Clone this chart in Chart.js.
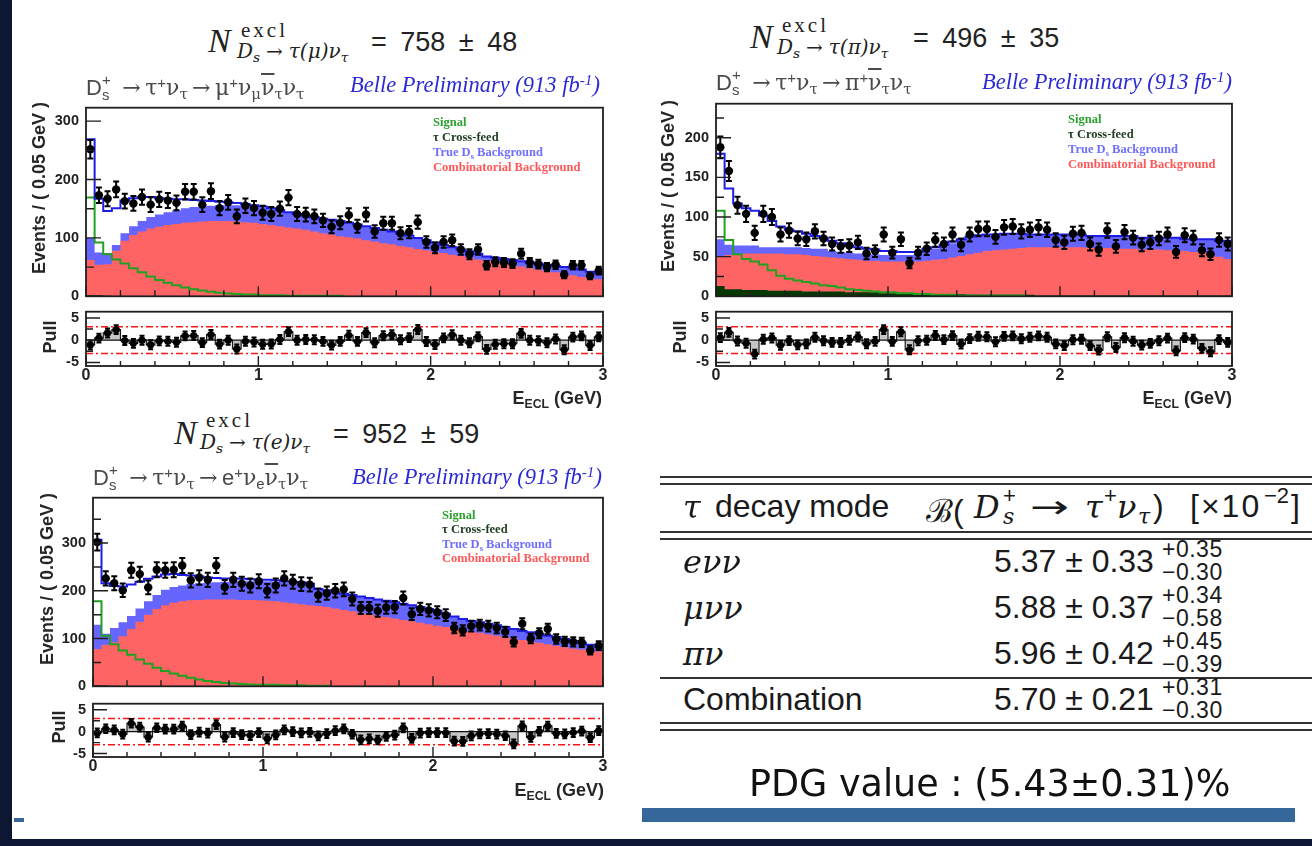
<!DOCTYPE html>
<html>
<head>
<meta charset="utf-8">
<title>Belle: D_s → τν yields in E_ECL</title>
<script src="https://cdn.jsdelivr.net/npm/chart.js@4.4.1/dist/chart.umd.min.js"></script>
<style>
  html,body{margin:0;padding:0;background:#fff;}
  body{position:relative;width:1312px;height:846px;overflow:hidden;font-family:"Liberation Sans",Arial,sans-serif;color:#222;}
  canvas{position:absolute;z-index:1;}
  .a{position:absolute;white-space:nowrap;line-height:1;z-index:2;}
  .g{font-family:"Liberation Serif","Times New Roman",serif;}
  .gk{font-family:"DejaVu Serif","Liberation Serif",serif;}
  .sub{font-size:.68em;position:relative;top:.3em;}
  .sup{font-size:.68em;position:relative;top:-.45em;}
  .stk{position:relative;display:inline-block;width:.45em;height:1em;}
  .stk>span{position:absolute;left:0;font-size:.68em;line-height:1;}
  .stk>.u{top:0;}
  .stk>.d{top:1em;}
  .ovl{text-decoration:overline;}
  .arr{display:inline-block;margin:0 .2em;}
  .tN{font:italic 34px "Liberation Serif",serif;}
  .tEx{font:21px "Liberation Serif",serif;letter-spacing:3px;}
  .tSub{font:italic 20px "DejaVu Serif","Liberation Serif",serif;}
  .tSub .arr{font-style:normal;margin:0 .3em;}
  .tEq{font:27px "Liberation Sans",sans-serif;word-spacing:6px;}
  .proc{font-size:22px;color:#4a4a4a;}
  .belle{font:italic 22.5px "Liberation Serif",serif;color:#2a2ad6;}
  .leg{font:bold 12.5px "Liberation Serif",serif;}
  .ytl{font:bold 18px "Liberation Sans",sans-serif;color:#262626;transform:translate(-50%,-50%) rotate(-90deg);}
  .xtl{font:bold 18px "Liberation Sans",sans-serif;color:#262626;}
  .rule{position:absolute;left:660px;width:652px;height:2px;background:#333;z-index:2;}
  .tb{font:32px "Liberation Sans",sans-serif;color:#1a1a1a;}
  .ts{font:22px "Liberation Sans",sans-serif;color:#1a1a1a;}
  .mi{font-family:"DejaVu Serif","Liberation Serif",serif;font-style:italic;}
  .cal{font-family:"DejaVu Serif","Liberation Serif",serif;}
  .es{font:23px "Liberation Sans",sans-serif;color:#1a1a1a;letter-spacing:.5px;}
</style>
</head>
<body>

<!-- slide frame -->
<div style="position:absolute;left:0;top:0;width:12px;height:846px;background:#0d1733;"></div>
<div style="position:absolute;left:0;top:839px;width:1312px;height:7px;background:#0d1733;"></div>
<div style="position:absolute;left:14px;top:818px;width:10px;height:4px;background:#35679a;"></div>
<div style="position:absolute;left:642px;top:808px;width:653px;height:14px;background:#35679a;"></div>

<!-- ===== τ → μ ν ν panel ===== -->
<div class="a tN" style="left:208px;top:22px;">N</div>
<div class="a tEx" style="left:241px;top:18px;">excl</div>
<div class="a tSub" style="left:237px;top:39px;">D<span class="sub">s</span><span class="arr">→</span>τ(μ)ν<span class="sub">τ</span></div>
<div class="a tEq" style="left:371px;top:27px;">= 758 ± 48</div>
<div class="a proc" style="left:86px;top:73px;">D<span class="stk"><span class="u">+</span><span class="d">s</span></span> <span class="gk arr">→</span><span class="gk">τ</span><span class="sup">+</span><span class="gk">ν</span><span class="sub gk">τ</span><span class="gk arr">→</span><span class="gk">μ</span><span class="sup">+</span><span class="gk">ν</span><span class="sub gk">μ</span><span class="gk ovl">ν</span><span class="sub gk">τ</span><span class="gk">ν</span><span class="sub gk">τ</span></div>
<div class="a belle" style="right:712px;top:72px;">Belle Preliminary (913 fb<span class="sup">-1</span>)</div>
<div class="a leg" style="left:433px;top:115px;color:#2ca02c;">Signal</div>
<div class="a leg" style="left:433px;top:130px;color:#1e3d1e;">τ Cross-feed</div>
<div class="a leg" style="left:433px;top:145px;color:#6e6eff;">True D<span class="sub">s</span> Background</div>
<div class="a leg" style="left:433px;top:160px;color:#ff5757;">Combinatorial Background</div>
<div class="a ytl" style="left:39px;top:188px;">Events / ( 0.05 GeV )</div>
<div class="a ytl" style="left:50px;top:337px;">Pull</div>
<div class="a xtl" style="right:710px;top:388px;">E<span class="sub">ECL</span> (GeV)</div>

<!-- ===== τ → π ν panel ===== -->
<div class="a tN" style="left:750px;top:18px;">N</div>
<div class="a tEx" style="left:782px;top:13px;">excl</div>
<div class="a tSub" style="left:777px;top:35px;">D<span class="sub">s</span><span class="arr">→</span>τ(π)ν<span class="sub">τ</span></div>
<div class="a tEq" style="left:913px;top:23px;">= 496 ± 35</div>
<div class="a proc" style="left:716px;top:68px;">D<span class="stk"><span class="u">+</span><span class="d">s</span></span> <span class="gk arr">→</span><span class="gk">τ</span><span class="sup">+</span><span class="gk">ν</span><span class="sub gk">τ</span><span class="gk arr">→</span><span class="gk">π</span><span class="sup">+</span><span class="gk ovl">ν</span><span class="sub gk">τ</span><span class="gk">ν</span><span class="sub gk">τ</span></div>
<div class="a belle" style="right:80px;top:69px;">Belle Preliminary (913 fb<span class="sup">-1</span>)</div>
<div class="a leg" style="left:1068px;top:112px;color:#2ca02c;">Signal</div>
<div class="a leg" style="left:1068px;top:127px;color:#1e3d1e;">τ Cross-feed</div>
<div class="a leg" style="left:1068px;top:142px;color:#6e6eff;">True D<span class="sub">s</span> Background</div>
<div class="a leg" style="left:1068px;top:157px;color:#ff5757;">Combinatorial Background</div>
<div class="a ytl" style="left:668px;top:186px;">Events / ( 0.05 GeV )</div>
<div class="a ytl" style="left:680px;top:337px;">Pull</div>
<div class="a xtl" style="right:80px;top:388px;">E<span class="sub">ECL</span> (GeV)</div>

<!-- ===== τ → e ν ν panel ===== -->
<div class="a tN" style="left:174px;top:414px;">N</div>
<div class="a tEx" style="left:206px;top:408px;">excl</div>
<div class="a tSub" style="left:200px;top:430px;">D<span class="sub">s</span><span class="arr">→</span>τ(e)ν<span class="sub">τ</span></div>
<div class="a tEq" style="left:333px;top:419px;">= 952 ± 59</div>
<div class="a proc" style="left:93px;top:463px;">D<span class="stk"><span class="u">+</span><span class="d">s</span></span> <span class="gk arr">→</span><span class="gk">τ</span><span class="sup">+</span><span class="gk">ν</span><span class="sub gk">τ</span><span class="gk arr">→</span>e<span class="sup">+</span><span class="gk">ν</span><span class="sub">e</span><span class="gk ovl">ν</span><span class="sub gk">τ</span><span class="gk">ν</span><span class="sub gk">τ</span></div>
<div class="a belle" style="right:710px;top:464px;">Belle Preliminary (913 fb<span class="sup">-1</span>)</div>
<div class="a leg" style="left:442px;top:508px;color:#2ca02c;">Signal</div>
<div class="a leg" style="left:442px;top:522px;color:#1e3d1e;">τ Cross-feed</div>
<div class="a leg" style="left:442px;top:537px;color:#6e6eff;">True D<span class="sub">s</span> Background</div>
<div class="a leg" style="left:442px;top:551px;color:#ff5757;">Combinatorial Background</div>
<div class="a ytl" style="left:47px;top:579px;">Events / ( 0.05 GeV )</div>
<div class="a ytl" style="left:59px;top:727px;">Pull</div>
<div class="a xtl" style="right:708px;top:780px;">E<span class="sub">ECL</span> (GeV)</div>

<!-- ===== branching-fraction table ===== -->
<div class="rule" style="top:476px;"></div>
<div class="rule" style="top:483px;"></div>
<div class="rule" style="top:531px;"></div>
<div class="rule" style="top:538px;"></div>
<div class="rule" style="top:677px;"></div>
<div class="rule" style="top:722px;"></div>
<div class="rule" style="top:729px;"></div>
<div class="a tb" style="left:683px;top:488px;"><span class="mi">τ</span></div>
<div class="a tb" style="left:715px;top:488px;">decay mode</div>
<!-- header: B(Ds+ -> tau+ nu_tau) [x10^-2] -->
<div class="a tb" style="left:926px;top:488px;"><span class="cal">ℬ</span>(</div>
<div class="a tb mi" style="left:974px;top:488px;">D</div>
<div class="a ts" style="left:1003px;top:483px;">+</div>
<div class="a ts mi" style="left:1003px;top:504px;">s</div>
<div class="a tb" style="left:1030px;top:488px;font-family:'DejaVu Sans',sans-serif;transform:scaleX(1.45);transform-origin:0 0;">→</div>
<div class="a tb mi" style="left:1085px;top:488px;">τ</div>
<div class="a ts" style="left:1104px;top:483px;">+</div>
<div class="a tb mi" style="left:1117px;top:488px;">ν</div>
<div class="a ts mi" style="left:1138px;top:504px;">τ</div>
<div class="a tb" style="left:1153px;top:488px;">)</div>
<div class="a tb" style="left:1190px;top:488px;letter-spacing:2px;">[×10</div>
<div class="a ts" style="left:1264px;top:483px;">−2</div>
<div class="a tb" style="left:1291px;top:488px;">]</div>
<div id="tableRows"></div>
<div class="a" style="left:749px;top:762px;font:36.5px 'DejaVu Sans',sans-serif;color:#111;">PDG value : (5.43±0.31)%</div>

<script>
// ---------------------------------------------------------------
// Histogram contents, 60 bins of 0.05 GeV in E_ECL (0 – 3 GeV)
// ---------------------------------------------------------------
const BIN = 0.05;

// τ → μ ν ν
const MU_DATA   = [252, 173, 167, 183, 163, 159, 170, 157, 166, 164, 160, 179, 179, 157, 180, 151, 161, 137, 155, 151,
                   143, 141, 150, 169, 141, 140, 137, 130, 119, 126, 139, 120, 140, 111, 125, 125, 108, 110, 127, 93,
                   83, 93, 96, 80, 72, 80, 53, 59, 58, 56, 73, 58, 55, 50, 54, 37, 53, 53, 35, 44];
const MU_COMB   = [60, 52, 54, 78, 95, 105, 111, 116, 119, 122, 124, 126, 127, 128, 129, 129, 129, 128, 127, 126,
                   124, 122, 120, 118, 116, 114, 111, 108, 106, 103, 101, 99, 96, 94, 91, 89, 86, 84, 81, 79,
                   76, 74, 71, 69, 66, 63, 61, 58, 56, 53, 51, 48, 46, 43, 41, 38, 36, 33, 31, 29];
const MU_TRUEDS = [38, 21, 19, 10, 13, 15, 18, 20, 21, 22, 23, 25, 26, 26, 26, 27, 27, 28, 28, 27,
                   28, 27, 26, 25, 24, 23, 24, 24, 24, 25, 25, 24, 24, 23, 23, 22, 21, 20, 19, 17,
                   16, 14, 13, 11, 11, 10, 7, 8, 8, 9, 9, 10, 10, 11, 11, 12, 12, 13, 11, 10];
const MU_XFEED  = [2, 2, 1];
const MU_SIGNAL = [169, 92, 72, 63, 56, 48, 41, 34, 28, 23, 19, 15, 12, 10, 8, 6, 5, 4, 3, 3,
                   2, 2, 2, 1, 1, 1, 1, 1, 1, 1];

// τ → π ν
const PI_DATA   = [188, 158, 115, 104, 80, 104, 100, 78, 83, 73, 72, 82, 73, 66, 63, 64, 68, 54, 57, 78,
                   55, 72, 42, 55, 60, 71, 66, 78, 65, 78, 85, 85, 75, 87, 88, 82, 84, 87, 84, 71,
                   68, 79, 80, 66, 59, 83, 63, 81, 74, 65, 68, 73, 78, 56, 77, 74, 58, 53, 71, 66];
const PI_COMB   = [38, 43, 44, 46, 46, 46, 47, 47, 46, 46, 46, 45, 44, 43, 42, 42, 41, 40, 40, 40,
                   40, 40, 40, 41, 42, 43, 44, 46, 48, 51, 53, 55, 56, 57, 58, 59, 60, 61, 61, 61,
                   61, 61, 61, 60, 60, 60, 59, 59, 59, 58, 58, 58, 57, 57, 56, 55, 54, 52, 49, 46];
const PI_TRUEDS = [21, 13, 11, 10, 10, 8, 8, 8, 9, 9, 9, 9, 10, 8, 8, 8, 8, 8, 8, 8,
                   8, 8, 8, 9, 12, 14, 16, 18, 20, 21, 21, 20, 19, 19, 18, 17, 16, 16, 16, 16,
                   16, 16, 16, 15, 15, 15, 16, 16, 16, 15, 15, 15, 16, 16, 15, 16, 17, 19, 20, 23];
const PI_XFEED  = [13, 9, 9, 8, 8, 8, 7, 7, 7, 7, 6, 6, 6, 6, 6, 5, 5, 5, 5, 4,
                   4, 4, 4, 3, 3, 3, 3, 3, 3, 2, 2, 2, 2, 2, 2, 2, 2, 1, 1, 1,
                   1, 1, 1, 1, 1, 1, 1, 1, 1, 1, 1, 1, 1, 1, 1, 1, 1, 1, 1, 1];
const PI_SIGNAL = [108, 71, 53, 47, 44, 40, 33, 26, 22, 20, 18, 16, 14, 13, 11, 9, 8, 7, 6, 5,
                   5, 4, 4, 3, 3, 2, 2, 2, 1, 1, 1, 1, 1, 1, 1, 1];

// τ → e ν ν
const E_DATA    = [302, 226, 216, 201, 243, 235, 207, 244, 243, 244, 253, 222, 228, 223, 253, 208, 223, 215, 211, 220,
                   200, 211, 226, 219, 214, 213, 191, 195, 200, 203, 183, 164, 164, 158, 165, 166, 185, 151, 162, 159,
                   155, 149, 122, 117, 126, 128, 126, 122, 114, 93, 131, 100, 111, 120, 99, 94, 93, 92, 75, 85];
const E_COMB    = [76, 86, 91, 105, 120, 135, 150, 162, 170, 175, 178, 180, 181, 182, 182, 182, 182, 181, 181, 180,
                   179, 178, 176, 174, 172, 170, 168, 166, 163, 160, 157, 154, 151, 148, 145, 142, 139, 136, 133, 130,
                   127, 124, 121, 118, 115, 112, 109, 106, 103, 100, 97, 94, 91, 88, 85, 82, 79, 77, 75, 73];
const E_TRUEDS  = [51, 23, 30, 29, 27, 28, 28, 29, 32, 33, 33, 34, 35, 35, 36, 37, 38, 39, 39, 40,
                   41, 41, 42, 43, 44, 44, 35, 34, 34, 34, 34, 34, 34, 34, 34, 34, 34, 34, 33, 32,
                   31, 28, 25, 23, 22, 22, 22, 22, 21, 20, 19, 19, 19, 18, 18, 17, 16, 14, 12, 10];
const E_XFEED   = [2, 1, 1];
const E_SIGNAL  = [178, 106, 88, 75, 66, 56, 47, 39, 32, 27, 22, 18, 14, 11, 9, 7, 6, 5, 4, 3,
                   3, 3, 2, 2, 2, 1, 1, 1];

// axis tick labels
const X_TICKS     = [0, 1, 2, 3];
const PULL_TICKS  = [-5, 0, 5];
const MU_Y_TICKS  = [0, 100, 200, 300];
const PI_Y_TICKS  = [0, 50, 100, 150, 200];
const E_Y_TICKS   = [0, 100, 200, 300];

// branching-fraction table
const MODES   = ['eνν', 'μνν', 'πν', 'Combination'];
const BF      = ['5.37', '5.88', '5.96', '5.70'];
const STAT    = ['0.33', '0.37', '0.42', '0.21'];
const SYST_UP = ['0.35', '0.34', '0.45', '0.31'];
const SYST_DN = ['0.30', '0.58', '0.39', '0.30'];

// ---------------------------------------------------------------
// table rows
// ---------------------------------------------------------------
(function buildTable() {
  const host = document.getElementById('tableRows');
  const baselines = [570, 616, 662, 708];
  MODES.forEach((m, i) => {
    const b = baselines[i];
    const isComb = i === MODES.length - 1;
    host.insertAdjacentHTML('beforeend',
      `<div class="a tb" style="left:683px;top:${b - 27}px;">${isComb ? m : '<span class="mi">' + m + '</span>'}</div>` +
      `<div class="a tb" style="left:994px;top:${b - 27}px;">${BF[i]} ± ${STAT[i]}</div>` +
      `<div class="a es" style="left:1162px;top:${b - 15 - 19}px;">+${SYST_UP[i]}</div>` +
      `<div class="a es" style="left:1162px;top:${b + 8 - 19}px;">−${SYST_DN[i]}</div>`);
  });
})();

// ---------------------------------------------------------------
// plotting helpers
// ---------------------------------------------------------------
const Y_AXIS_W = 56, PAD = 12, X_AXIS_H = 24, PAD_B_PULL = 4;
const TICK_FONT = {family: 'Liberation Sans', size: 14.5, weight: 'bold'};
const XTICK_FONT = {family: 'Liberation Sans', size: 16, weight: 'bold'};

const at = (arr, i) => (i < arr.length ? arr[i] : 0);

// points on the bin edges for a stepped outline
function stepPoints(values) {
  const pts = values.map((v, i) => ({x: i * BIN, y: v}));
  pts.push({x: values.length * BIN, y: values[values.length - 1]});
  return pts;
}

function makeCanvas(left, top, w, h) {
  const c = document.createElement('canvas');
  c.width = w; c.height = h;
  c.style.left = left + 'px'; c.style.top = top + 'px';
  c.style.width = w + 'px'; c.style.height = h + 'px';
  document.body.appendChild(c);
  return c;
}

// frame with ROOT-style inward ticks
const rootFrame = {
  id: 'rootFrame',
  afterDraw(chart, args, o) {
    const {ctx, chartArea: a} = chart;
    const x = chart.scales.x, y = chart.scales.y;
    ctx.save();
    ctx.strokeStyle = '#1e1e1e';
    ctx.lineWidth = 1.4;
    ctx.beginPath();
    const nx = Math.round((x.max - x.min) / o.xStep);
    for (let k = 0; k <= nx; k++) {
      const v = x.min + k * o.xStep;
      const major = Math.abs(v - Math.round(v)) < 1e-6;
      const px = x.getPixelForValue(v);
      ctx.moveTo(px, a.bottom);
      ctx.lineTo(px, a.bottom - (major ? o.xMajor : o.xMinor));
    }
    const k0 = Math.ceil(y.min / o.yStep - 1e-9), k1 = Math.floor(y.max / o.yStep + 1e-9);
    for (let k = k0; k <= k1; k++) {
      const v = k * o.yStep;
      const major = o.yLabels.some(t => Math.abs(t - v) < 1e-6);
      const py = y.getPixelForValue(v);
      ctx.moveTo(a.left, py);
      ctx.lineTo(a.left + (major ? o.yMajor : o.yMinor), py);
    }
    ctx.stroke();
    ctx.lineWidth = 1.8;
    ctx.strokeRect(a.left, a.top, a.right - a.left, a.bottom - a.top);
    ctx.restore();
  }
};

// vertical error bars (Poisson for counts, unit for pulls) plus bin-width bars
const errorBars = {
  id: 'errorBars',
  afterDatasetsDraw(chart) {
    const {ctx, chartArea: a} = chart;
    const x = chart.scales.x, y = chart.scales.y;
    ctx.save();
    ctx.beginPath();
    ctx.rect(a.left, a.top, a.right - a.left, a.bottom - a.top);
    ctx.clip();
    chart.data.datasets.forEach(ds => {
      if (!ds.errorMode) return;
      ctx.strokeStyle = '#000';
      ctx.lineWidth = 2;
      const cap = ds.capHalf;
      ds.data.forEach(p => {
        const e = ds.errorMode === 'poisson' ? Math.sqrt(p.y) : 1;
        const px = x.getPixelForValue(p.x), py = y.getPixelForValue(p.y);
        const lo = y.getPixelForValue(p.y - e), hi = y.getPixelForValue(p.y + e);
        const xl = x.getPixelForValue(p.x - BIN / 2), xr = x.getPixelForValue(p.x + BIN / 2);
        ctx.beginPath();
        ctx.moveTo(px, lo); ctx.lineTo(px, hi);
        ctx.moveTo(px - cap, lo); ctx.lineTo(px + cap, lo);
        ctx.moveTo(px - cap, hi); ctx.lineTo(px + cap, hi);
        ctx.moveTo(xl + 0.5, py); ctx.lineTo(xr - 0.5, py);
        ctx.stroke();
      });
    });
    ctx.restore();
  }
};

// zero line and ±3 guides of the pull pad, drawn over the pull histogram
const pullGuides = {
  id: 'pullGuides',
  afterDatasetDraw(chart, args) {
    if (args.index !== 1) return;
    const {ctx, chartArea: a} = chart;
    const y = chart.scales.y;
    ctx.save();
    ctx.strokeStyle = '#111';
    ctx.lineWidth = 1.3;
    ctx.beginPath();
    ctx.moveTo(a.left, y.getPixelForValue(0));
    ctx.lineTo(a.right, y.getPixelForValue(0));
    ctx.stroke();
    ctx.strokeStyle = '#ff1414';
    ctx.lineWidth = 1.5;
    ctx.setLineDash([7, 3, 2, 3]);
    [3, -3].forEach(v => {
      const py = y.getPixelForValue(v);
      ctx.beginPath();
      ctx.moveTo(a.left, py);
      ctx.lineTo(a.right, py);
      ctx.stroke();
    });
    ctx.restore();
  }
};

function yScale(min, max, labels) {
  return {
    type: 'linear', min, max,
    afterFit: s => { s.width = Y_AXIS_W; },
    afterBuildTicks: s => { s.ticks = labels.map(v => ({value: v})); },
    ticks: {font: TICK_FONT, color: '#222', padding: 7},
    grid: {display: false, drawTicks: false},
    border: {display: false}
  };
}

function drawPanel(p) {
  const cf = p.data.map((_, i) => at(p.xfeed, i));
  const red = cf.map((v, i) => v + p.comb[i]);
  const blue = red.map((v, i) => v + p.trueDs[i]);
  const total = blue.map((v, i) => v + at(p.signal, i));
  const pulls = p.data.map((v, i) => (v - total[i]) / Math.sqrt(v));
  const centres = p.data.map((v, i) => ({x: (i + 0.5) * BIN, y: v}));

  // ---- main pad ----
  const m = p.main;
  const mw = Y_AXIS_W + (m.r - m.l) + PAD, mh = PAD + (m.b - m.t) + PAD;
  const mc = makeCanvas(m.l - Y_AXIS_W, m.t - PAD, mw, mh);
  const fillDs = (vals, color, order) => ({
    data: stepPoints(vals), stepped: true, fill: 'origin', backgroundColor: color,
    borderColor: 'rgba(0,0,0,0)', borderWidth: 0, pointRadius: 0, order
  });
  new Chart(mc, {
    type: 'line',
    data: {datasets: [
      {label: 'Data', data: centres, showLine: false, pointRadius: 4.2, pointBackgroundColor: '#000',
       pointBorderWidth: 0, errorMode: 'poisson', capHalf: 3, order: 0},
      {label: 'Fit', data: stepPoints(total), stepped: true, borderColor: '#1c1ce6', borderWidth: 2,
       pointRadius: 0, fill: false, order: 1},
      {label: 'Signal', data: stepPoints(p.signal), stepped: true, borderColor: '#22a022', borderWidth: 2,
       pointRadius: 0, fill: false, order: 2},
      Object.assign({label: 'τ Cross-feed'}, fillDs(cf, '#063806', 3)),
      Object.assign({label: 'Combinatorial Background'}, fillDs(red, '#fe6464', 4)),
      Object.assign({label: 'True Ds Background'}, fillDs(blue, '#6666fe', 5))
    ]},
    options: {
      responsive: false, animation: false, devicePixelRatio: 1,
      layout: {padding: {left: 0, top: PAD, right: PAD, bottom: PAD}},
      plugins: {
        legend: {display: false}, tooltip: {enabled: false},
        rootFrame: {xStep: 0.2, xMajor: 10, xMinor: 6, yStep: p.yMinorStep, yLabels: p.yTicks, yMajor: 15, yMinor: 8}
      },
      scales: {
        x: {type: 'linear', min: 0, max: 3, display: false},
        y: yScale(0, p.yMax, p.yTicks)
      }
    },
    plugins: [rootFrame, errorBars]
  });

  // ---- pull pad ----
  const q = p.pull;
  const qw = Y_AXIS_W + (q.r - q.l) + PAD, qh = PAD + (q.b - q.t) + X_AXIS_H + PAD_B_PULL;
  const qc = makeCanvas(q.l - Y_AXIS_W, q.t - PAD, qw, qh);
  new Chart(qc, {
    type: 'line',
    data: {datasets: [
      {label: 'Pull', data: pulls.map((v, i) => ({x: (i + 0.5) * BIN, y: v})), showLine: false,
       pointRadius: 3.6, pointBackgroundColor: '#000', pointBorderWidth: 0, errorMode: 'unit', capHalf: 2.5, order: 0},
      {label: 'Pull histogram', data: stepPoints(pulls), stepped: true, borderColor: '#1a1a1a', borderWidth: 1.2,
       backgroundColor: '#c6c6c6', fill: {value: 0}, pointRadius: 0, order: 1}
    ]},
    options: {
      responsive: false, animation: false, devicePixelRatio: 1,
      layout: {padding: {left: 0, top: PAD, right: PAD, bottom: PAD_B_PULL}},
      plugins: {
        legend: {display: false}, tooltip: {enabled: false},
        rootFrame: {xStep: 0.2, xMajor: 10, xMinor: 5, yStep: 2.5, yLabels: PULL_TICKS, yMajor: 14, yMinor: 7}
      },
      scales: {
        x: {
          type: 'linear', min: 0, max: 3,
          afterFit: s => { s.height = X_AXIS_H; },
          afterBuildTicks: s => { s.ticks = X_TICKS.map(v => ({value: v})); },
          ticks: {font: XTICK_FONT, color: '#222', padding: 0, maxRotation: 0, autoSkip: false},
          grid: {display: false, drawTicks: false},
          border: {display: false}
        },
        y: yScale(-5.8, 6.4, PULL_TICKS)
      }
    },
    plugins: [pullGuides, rootFrame, errorBars]
  });
}

const PANELS = [
  {data: MU_DATA, comb: MU_COMB, trueDs: MU_TRUEDS, xfeed: MU_XFEED, signal: MU_SIGNAL,
   yMax: 323, yMinorStep: 50, yTicks: MU_Y_TICKS,
   main: {l: 86, r: 603, t: 104, b: 300}, pull: {l: 86, r: 603, t: 308, b: 366}},
  {data: PI_DATA, comb: PI_COMB, trueDs: PI_TRUEDS, xfeed: PI_XFEED, signal: PI_SIGNAL,
   yMax: 243, yMinorStep: 25, yTicks: PI_Y_TICKS,
   main: {l: 716, r: 1232, t: 100, b: 300}, pull: {l: 716, r: 1232, t: 308, b: 366}},
  {data: E_DATA, comb: E_COMB, trueDs: E_TRUEDS, xfeed: E_XFEED, signal: E_SIGNAL,
   yMax: 395, yMinorStep: 50, yTicks: E_Y_TICKS,
   main: {l: 93, r: 603, t: 494, b: 690}, pull: {l: 93, r: 603, t: 700, b: 757}}
];

PANELS.forEach(drawPanel);
</script>
</body>
</html>
